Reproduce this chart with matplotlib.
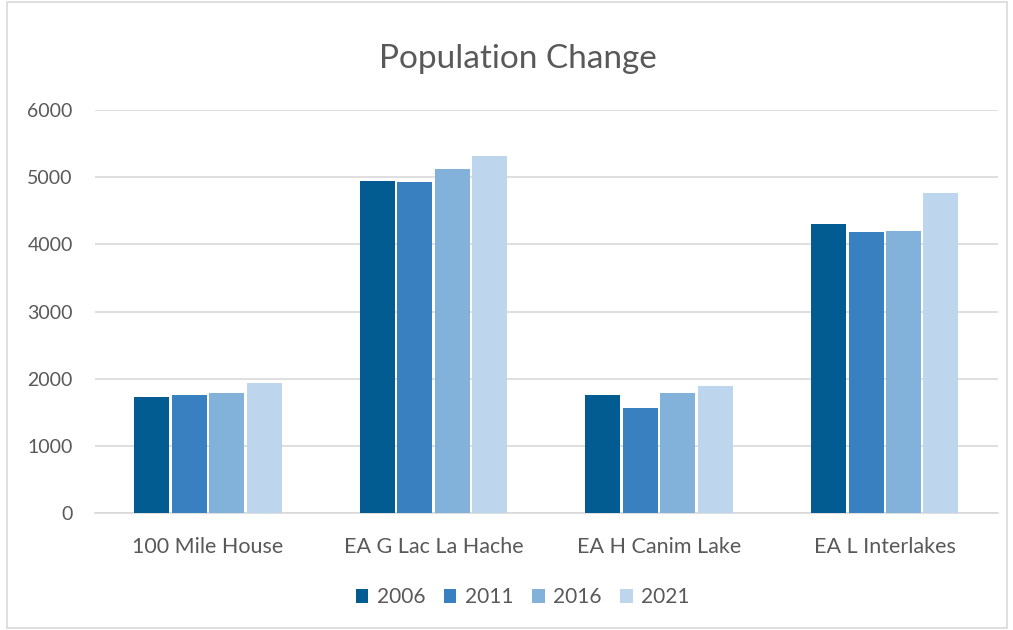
import matplotlib
matplotlib.use("Agg")
import matplotlib.pyplot as plt
import numpy as np
from matplotlib.patches import Rectangle

categories = ["100 Mile House", "EA G Lac La Hache", "EA H Canim Lake", "EA L Interlakes"]
years = ["2006", "2011", "2016", "2021"]
v2006 = [1720, 4950, 1750, 4305]
v2011 = [1760, 4935, 1562, 4182]
v2016 = [1790, 5128, 1786, 4196]
v2021 = [1929, 5321, 1890, 4771]
series = [v2006, v2011, v2016, v2021]
colors = ["#025c91", "#3880c0", "#82b1da", "#bdd6ed"]
yticks = [0, 1000, 2000, 3000, 4000, 5000, 6000]

plt.rcParams['font.family'] = ['Lato', 'DejaVu Sans']
txt = "#595959"

fig = plt.figure(figsize=(10.13, 6.3), dpi=100)
fig.patches.append(Rectangle((0.007, 0.003), 0.987, 0.994, transform=fig.transFigure,
                             fill=False, edgecolor="#d9d9d9", linewidth=1.2))
ax = fig.add_axes([0.0938, 0.1857, 0.891, 0.6397])

x = np.arange(len(categories))
slot = 0.166
bw = 0.155
for i, (vals, c, yr) in enumerate(zip(series, colors, years)):
    ax.bar(x + (i - 1.5) * slot, vals, width=bw, color=c, label=yr, zorder=3,
           edgecolor="white", linewidth=0.0)

ax.set_xlim(-0.5, len(categories) - 0.5)
ax.set_ylim(0, 6000)
ax.set_yticks(yticks)
ax.set_yticklabels([str(t) for t in yticks])
ax.set_xticks(x)
ax.set_xticklabels(categories)
ax.grid(axis="y", color="#d9d9d9", linewidth=1.2, zorder=0)
for s in ["top", "right", "left"]:
    ax.spines[s].set_visible(False)
ax.spines["bottom"].set_color("#d9d9d9")
ax.spines["bottom"].set_linewidth(1.2)
ax.tick_params(axis="both", length=0, colors=txt)
ax.tick_params(axis="y", pad=16, labelsize=14)
ax.tick_params(axis="x", pad=17, labelsize=15.5)

fig.text(0.511, 0.906, "Population Change", ha="center", va="center", fontsize=24, color=txt)

leg = fig.legend(loc="center", bbox_to_anchor=(0.516, 0.052), ncol=4, frameon=False,
                 fontsize=15, handlelength=0.6, handleheight=0.6, handletextpad=0.4,
                 columnspacing=0.9)
for t in leg.get_texts():
    t.set_color(txt)

fig.savefig("out.png", dpi=100)
